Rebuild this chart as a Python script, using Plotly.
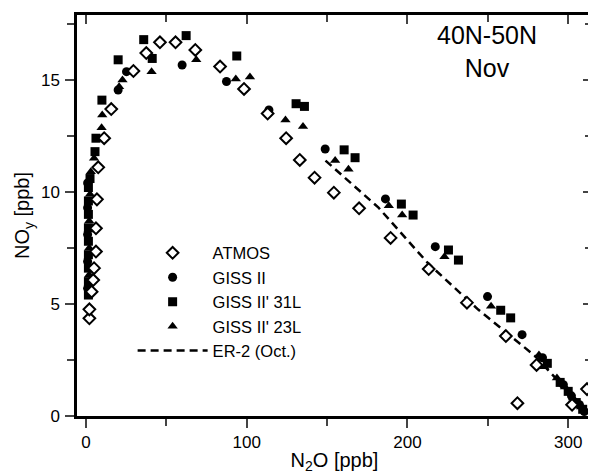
import plotly.graph_objects as go

# ATMOS (open diamonds)
atmos_x = [2.1, 2.1, 3.5, 4.5, 5.0, 6.2, 6.2, 6.8, 7.6, 11.3, 15.7, 29.5, 37.5, 46.0, 55.7, 68.0,
           83.4, 98.3, 113.0, 124.5, 133.0, 142.2, 154.2, 169.9, 189.5, 213.2, 237.0, 261.2,
           280.3, 268.4, 302.4, 311.7]
atmos_y = [4.36, 4.76, 5.55, 6.07, 6.6, 7.34, 8.38, 9.67, 11.1, 12.4, 13.7, 15.4, 16.2, 16.68, 16.68, 16.34,
           15.6, 14.6, 13.5, 12.4, 11.43, 10.64, 9.97, 9.27, 7.95, 6.56, 5.06, 3.57,
           2.28, 0.57, 0.5, 1.2]

# GISS II (filled circles)
giss_x = [1.0, 1.0, 1.0, 1.0, 1.0, 20.0, 25.2, 59.8, 87.4, 113.8, 148.8, 186.3, 217.3, 249.8,
          271.3, 284.0, 297.0, 302.0, 307.0, 310.0]
giss_y = [5.7, 6.9, 8.1, 9.3, 10.4, 14.55, 15.37, 15.67, 14.93, 13.66, 11.92, 9.69, 7.56, 5.33,
          3.63, 2.6, 1.4, 0.9, 0.5, 0.2]

# GISS II' 31L (filled squares)
g31_x = [1.5, 1.5, 1.5, 1.5, 1.5, 1.5, 1.5, 1.5, 1.5, 2.5, 5.6, 6.2, 9.9, 20.0, 35.9, 41.2, 62.3,
         93.8, 130.7, 135.9, 160.6, 167.4, 196.2, 203.5, 225.5, 231.7, 258.0, 264.2, 287.0,
         295.0, 300.0, 305.0, 309.0]
g31_y = [5.4, 6.0, 6.6, 7.2, 7.8, 8.4, 9.0, 9.6, 10.2, 10.6, 11.8, 12.4, 14.1, 15.9, 16.8, 15.96, 16.98,
         16.07, 13.94, 13.82, 11.88, 11.53, 9.46, 8.97, 7.41, 6.96, 4.72, 4.38, 2.35,
         1.5, 1.1, 0.6, 0.3]

# GISS II' 23L (filled triangles)
g23_x = [2.0, 2.0, 2.0, 2.5, 3.0, 5.0, 9.7, 10.1, 20.6, 22.7, 40.8, 68.6, 93.2, 102.0, 124.1, 135.0,
         155.0, 163.3, 188.4, 196.7, 223.0, 252.0, 281.8, 285.0, 293.0, 298.0, 303.0, 308.0]
g23_y = [6.3, 7.5, 8.7, 9.9, 10.9, 11.5, 12.87, 13.44, 14.7, 15.0, 15.37, 15.9, 15.04, 15.13, 13.21, 12.92,
         11.4, 11.01, 9.38, 8.97, 7.11, 4.9, 2.72, 2.2, 1.7, 1.3, 0.8, 0.4]

# ER-2 (Oct.) dashed fit
er2_x = [149, 182, 213, 244, 279, 313]
er2_y = [11.4, 9.3, 6.8, 4.75, 2.7, 0.1]

xr = [-5.6, 314.8]
yr = [0, 17.9]

font = "Liberation Sans, Arial, sans-serif"

fig = go.Figure()
fig.add_trace(go.Scatter(x=giss_x, y=giss_y, mode="markers", name="GISS II", legendrank=2,
                         marker=dict(symbol="circle", size=9, color="black"), cliponaxis=False))
fig.add_trace(go.Scatter(x=g31_x, y=g31_y, mode="markers", name="GISS II' 31L", legendrank=3,
                         marker=dict(symbol="square", size=9, color="black"), cliponaxis=False))
fig.add_trace(go.Scatter(x=g23_x, y=g23_y, mode="markers", name="GISS II' 23L", legendrank=4,
                         marker=dict(symbol="triangle-up", size=9, color="black"), cliponaxis=False))
fig.add_trace(go.Scatter(x=er2_x, y=er2_y, mode="lines", name="ER-2 (Oct.)", legendrank=5,
                         line=dict(color="black", width=2.5, dash="8px,5px")))
fig.add_trace(go.Scatter(x=atmos_x, y=atmos_y, mode="markers", name="ATMOS", legendrank=1,
                         marker=dict(symbol="diamond", size=9, color="white",
                                     line=dict(color="black", width=2)), cliponaxis=False))
# empty trace so the top/right tick axes get drawn
fig.add_trace(go.Scatter(x=[], y=[], xaxis="x2", yaxis="y2", showlegend=False, hoverinfo="skip"))

# page body has an 8px margin, so the figure is 8px smaller and margins shifted
fig.update_layout(
    width=588, height=466,
    margin=dict(l=69, r=1, t=7, b=58),
    plot_bgcolor="white", paper_bgcolor="white",
    font=dict(family=font, size=17, color="black"),
    showlegend=True,
    legend=dict(x=0.108, y=0.45, xanchor="left", yanchor="top", bgcolor="rgba(0,0,0,0)",
                font=dict(size=16.5), itemwidth=70, tracegroupgap=0),
    xaxis=dict(range=xr, tick0=0, dtick=100, ticks="outside", ticklen=9, tickwidth=2,
               minor=dict(dtick=50, ticks="outside", ticklen=7, tickwidth=2),
               showline=True, linewidth=2.5, linecolor="black", mirror=True,
               showgrid=False, zeroline=False,
               title=dict(text="N<sub>2</sub>O [ppb]", font=dict(size=20), standoff=7)),
    yaxis=dict(range=yr, tick0=0, dtick=5, ticks="outside", ticklen=9, tickwidth=2,
               minor=dict(dtick=2.5, ticks="outside", ticklen=7, tickwidth=2),
               showline=True, linewidth=2.5, linecolor="black", mirror=True,
               showgrid=False, zeroline=False, ticklabelstandoff=2,
               title=dict(text="NO<sub>y</sub> [ppb]", font=dict(size=20), standoff=6)),
    xaxis2=dict(range=xr, overlaying="x", side="top", anchor="y2", tick0=0, dtick=100,
                ticks="inside", ticklen=9, tickwidth=2,
                minor=dict(dtick=50, ticks="inside", ticklen=7, tickwidth=2),
                showticklabels=False, showline=False, showgrid=False, zeroline=False),
    yaxis2=dict(range=yr, overlaying="y", side="right", anchor="x2", tick0=0, dtick=5,
                ticks="inside", ticklen=9, tickwidth=2,
                minor=dict(dtick=2.5, ticks="inside", ticklen=7, tickwidth=2),
                showticklabels=False, showline=False, showgrid=False, zeroline=False),
)

fig.add_annotation(x=0.797, y=0.91, xref="paper", yref="paper", xanchor="center", yanchor="middle",
                   text="40N-50N<br>Nov", showarrow=False, font=dict(size=25))

fig.write_html("out.html")
